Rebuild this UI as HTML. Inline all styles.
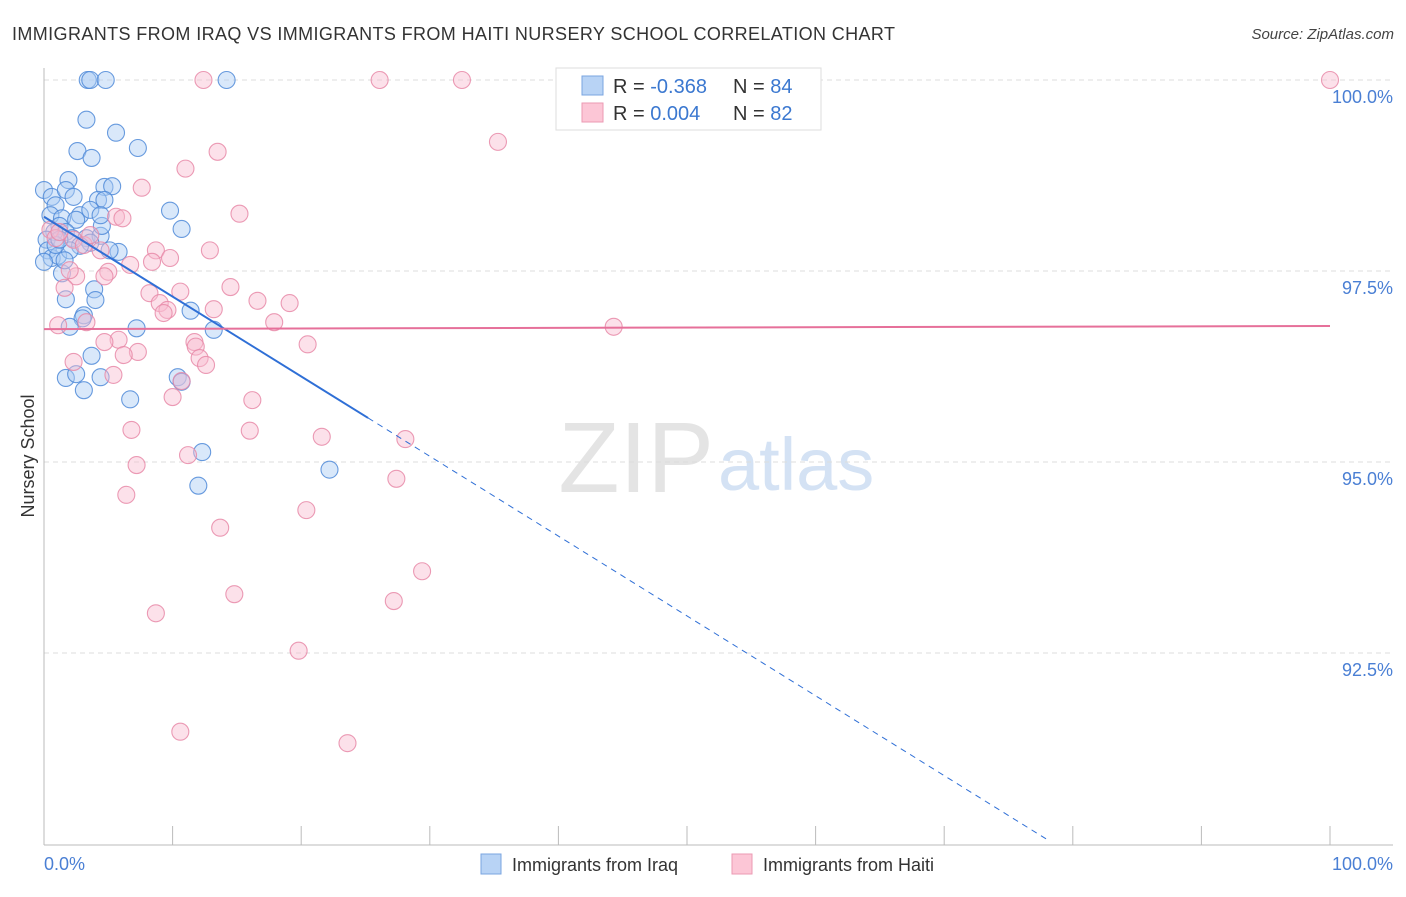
<!DOCTYPE html>
<html><head><meta charset="utf-8"><style>
body{margin:0;background:#fff;font-family:"Liberation Sans",sans-serif;}
svg text{font-family:"Liberation Sans",sans-serif;}
</style></head><body>
<svg id="chart" width="1406" height="892" xmlns="http://www.w3.org/2000/svg">
<text x="12" y="40" font-size="18" fill="#333" textLength="883" lengthAdjust="spacing">IMMIGRANTS FROM IRAQ VS IMMIGRANTS FROM HAITI NURSERY SCHOOL CORRELATION CHART</text>
<text x="1394" y="39" font-size="15" fill="#444" font-style="italic" text-anchor="end">Source: ZipAtlas.com</text>
<text x="714" y="492" font-size="100" fill="#e4e4e4" text-anchor="end" font-family="Liberation Serif">ZIP</text>
<text x="718" y="490" font-size="74" fill="#d4e2f4">atlas</text>
<g id="grid"></g>
<g id="axes"></g>
<g id="pts-blue"></g>
<g id="pts-pink"></g>
<g id="trends"></g>
<text transform="translate(34,456) rotate(-90)" font-size="18" fill="#333" text-anchor="middle">Nursery School</text>
<text x="44" y="870" font-size="18" fill="#4a7fd4">0.0%</text>
<text x="1393" y="870" font-size="18" fill="#4a7fd4" text-anchor="end">100.0%</text>
<g>
<rect x="556" y="68" width="265" height="62" fill="#fff" stroke="#ddd"/>
<rect x="582" y="76" width="21" height="19" fill="#b8d3f5" stroke="#7aa5e0"/>
<rect x="582" y="103" width="21" height="19" fill="#fcc6d6" stroke="#eb9ab3"/>
<text x="613" y="93" font-size="20" fill="#333">R = <tspan fill="#3b78d0">-0.368</tspan></text>
<text x="733" y="93" font-size="20" fill="#333">N = <tspan fill="#3b78d0">84</tspan></text>
<text x="613" y="120" font-size="20" fill="#333">R = <tspan fill="#3b78d0"> 0.004</tspan></text>
<text x="733" y="120" font-size="20" fill="#333">N = <tspan fill="#3b78d0">82</tspan></text>
</g>
<g>
<rect x="481" y="854" width="20" height="20" fill="#b8d3f5" stroke="#7aa5e0"/>
<text x="512" y="871" font-size="18" fill="#333">Immigrants from Iraq</text>
<rect x="732" y="854" width="20" height="20" fill="#fcc6d6" stroke="#eb9ab3"/>
<text x="763" y="871" font-size="18" fill="#333">Immigrants from Haiti</text>
</g>
</svg>
<script>
const yTicks=[100,97.5,95,92.5];
const yTickLabels=["100.0%","97.5%","95.0%","92.5%"];
const iraqX=[3.4,3.6,4.8,14.2,3.3,5.6,7.3,2.6,3.7,0,0.6,1.9,1.7,2.3,4.7,5.3,4.2,4.7,9.8,10.7,0.9,0.5,1.4,2.8,2.5,1.2,1.7,0.8,2.2,3.3,4.4,4.5,0.2,0.3,0.6,1.1,0,5.8,3.6,2.8,2.0,1.4,3.9,4.0,1.7,3.1,3.0,11.4,7.2,2.0,13.2,3.7,1.7,2.5,4.4,10.4,10.7,6.7,3.1,12.3,12.0,22.2,0.9,1.2,3.6,4.4,5.1,1.6];
const iraqY=[100,100,100,100,99.48,99.31,99.11,99.07,98.98,98.56,98.47,98.69,98.56,98.47,98.60,98.61,98.43,98.43,98.29,98.05,98.36,98.23,98.19,98.23,98.17,98.09,98.01,98.01,97.93,97.93,97.96,98.09,97.91,97.77,97.67,97.70,97.62,97.75,97.87,97.83,97.77,97.47,97.26,97.12,97.13,96.92,96.88,96.98,96.75,96.77,96.73,96.39,96.10,96.15,96.11,96.11,96.05,95.82,95.94,95.13,94.69,94.90,97.84,97.91,98.30,98.23,97.77,97.64];
const haitiX=[12.4,26.1,32.5,100,35.3,13.5,11.0,7.6,15.2,5.6,6.1,0.5,0.9,2.3,3.1,4.4,8.7,9.8,8.4,12.9,6.7,5.0,4.7,2.5,1.6,8.2,10.6,14.5,16.6,19.1,9.0,9.6,9.3,13.2,17.9,1.1,3.3,44.3,5.8,4.7,11.7,11.8,20.5,7.3,6.2,12.1,12.6,10.7,5.4,2.3,10.0,16.2,6.8,16.0,21.6,28.1,11.2,7.2,27.4,6.4,20.4,13.7,29.4,14.8,27.2,8.7,19.8,10.6,23.6,1.2,3.6,2.0];
const haitiY=[100,100,100,100,99.19,99.06,98.84,98.59,98.25,98.21,98.19,98.04,97.93,97.91,97.84,97.77,97.77,97.67,97.62,97.77,97.58,97.49,97.43,97.43,97.28,97.21,97.23,97.29,97.11,97.08,97.08,96.99,96.95,97.00,96.83,96.79,96.83,96.77,96.60,96.57,96.57,96.51,96.54,96.44,96.40,96.36,96.27,96.06,96.14,96.31,95.85,95.81,95.42,95.41,95.33,95.30,95.09,94.96,94.78,94.57,94.37,94.14,93.57,93.27,93.18,93.02,92.53,91.47,91.32,98.01,97.97,97.51];
const iraqTrend=[98.21,-0.1045];
const haitiTrend=[96.74,0.0004];
const NS="http://www.w3.org/2000/svg";
const sx=v=>44+v*12.86;
const sy=v=>80+(100-v)*76.4;
function mk(t,a,p){const e=document.createElementNS(NS,t);for(const k in a)e.setAttribute(k,a[k]);p.appendChild(e);return e;}
const grid=document.getElementById('grid');
yTicks.forEach((t,i)=>{
 const l=mk('line',{x1:44,x2:1393,y1:sy(t),y2:sy(t),stroke:'#ddd','stroke-dasharray':'5,4'},grid);
 
 
 const tx=mk('text',{x:1393,y:sy(t)+23,'font-size':18,fill:'#4a7fd4','text-anchor':'end'},grid);
 tx.textContent=yTickLabels[i];
 
 
});
const ax=document.getElementById('axes');
mk('line',{x1:44,x2:44,y1:68,y2:845,stroke:'#bbb'},ax);
mk('line',{x1:44,x2:1393,y1:845,y2:845,stroke:'#bbb'},ax);
for(let i=0;i<=10;i++){const t=mk('line',{x1:sx(i*10),x2:sx(i*10),y1:826,y2:845,stroke:'#bbb'},ax);
 
 }
function pts(X,Y,g,f,s){X.forEach((x,i)=>{const c=mk('circle',{cx:sx(x),cy:sy(Y[i]),r:8.5,fill:f,'fill-opacity':0.45,stroke:s,'stroke-width':1.1,'stroke-opacity':0.85},g);
 
 });}
pts(iraqX,iraqY,document.getElementById('pts-blue'),'#aacbf3','#4f8ad8');
pts(haitiX,haitiY,document.getElementById('pts-pink'),'#f9bdd0','#e88aa8');
const tr=document.getElementById('trends');
const by=x=>iraqTrend[0]+iraqTrend[1]*x;
const l1=mk('line',{x1:sx(0),y1:sy(by(0)),x2:sx(25.2),y2:sy(by(25.2)),stroke:'#2f6fd6','stroke-width':2},tr);


const l2=mk('line',{x1:sx(25.2),y1:sy(by(25.2)),x2:sx(78.2),y2:sy(by(78.2)),stroke:'#2f6fd6','stroke-width':1,'stroke-dasharray':'6,5'},tr);


const py=x=>haitiTrend[0]+haitiTrend[1]*x;
const l3=mk('line',{x1:sx(0),y1:sy(py(0)),x2:sx(100),y2:sy(py(100)),stroke:'#e6709a','stroke-width':2},tr);


</script>
</body></html>
